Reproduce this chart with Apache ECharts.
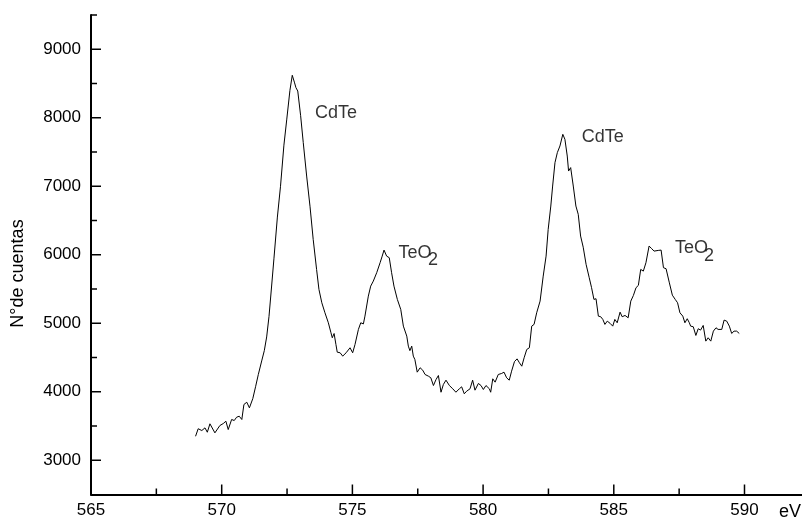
<!DOCTYPE html>
<html>
<head>
<meta charset="utf-8">
<title>CdTe / TeO2</title>
<script src="https://cdn.jsdelivr.net/npm/echarts@6/dist/echarts.min.js"></script>
<style>
  html, body { margin: 0; padding: 0; background: #fff; }
  #chart { width: 802px; height: 523px; }
</style>
</head>
<body>
<div id="chart"></div>
<script>
const eV = [
  569.00, 569.10, 569.24, 569.36, 569.45, 569.55, 569.74, 569.93, 570.06, 570.16,
  570.25, 570.38, 570.48, 570.57, 570.67, 570.77, 570.85, 570.96, 571.06, 571.19,
  571.30, 571.40, 571.53, 571.63, 571.72, 571.81, 571.90, 572.00, 572.13, 572.25,
  572.38, 572.49, 572.61, 572.70, 572.78, 572.84, 572.91, 573.02, 573.12, 573.25,
  573.38, 573.50, 573.63, 573.72, 573.83, 573.95, 574.08, 574.18, 574.23, 574.30,
  574.37, 574.42, 574.53, 574.63, 574.76, 574.91, 575.01, 575.10, 575.23, 575.32,
  575.42, 575.48, 575.61, 575.70, 575.80, 575.93, 576.06, 576.14, 576.21, 576.31,
  576.41, 576.50, 576.59, 576.72, 576.85, 576.95, 577.08, 577.14, 577.20, 577.27,
  577.33, 577.39, 577.48, 577.59, 577.69, 577.78, 577.91, 578.00, 578.10, 578.20,
  578.29, 578.39, 578.48, 578.58, 578.71, 578.84, 578.96, 579.09, 579.18, 579.28,
  579.37, 579.50, 579.60, 579.69, 579.82, 579.92, 580.01, 580.11, 580.24, 580.29,
  580.37, 580.46, 580.58, 580.71, 580.80, 580.90, 581.00, 581.09, 581.20, 581.30,
  581.39, 581.48, 581.57, 581.67, 581.77, 581.86, 581.95, 582.05, 582.18, 582.30,
  582.41, 582.49, 582.59, 582.66, 582.75, 582.84, 582.94, 583.05, 583.13, 583.22,
  583.27, 583.35, 583.45, 583.55, 583.64, 583.73, 583.83, 583.94, 584.06, 584.15,
  584.24, 584.32, 584.41, 584.50, 584.58, 584.66, 584.75, 584.86, 584.96, 585.04,
  585.13, 585.24, 585.32, 585.43, 585.55, 585.65, 585.75, 585.85, 585.94, 586.03,
  586.13, 586.23, 586.35, 586.45, 586.54, 586.70, 586.81, 586.90, 587.00, 587.12,
  587.24, 587.35, 587.44, 587.53, 587.64, 587.72, 587.81, 587.89, 587.94, 588.04,
  588.14, 588.23, 588.32, 588.42, 588.52, 588.61, 588.71, 588.81, 588.91, 588.99,
  589.13, 589.22, 589.32, 589.42, 589.51, 589.60, 589.70, 589.80
];
const cuentas = [
  3350, 3460, 3434, 3473, 3409, 3532, 3400, 3507, 3536, 3570,
  3448, 3595, 3580, 3628, 3643, 3595, 3814, 3847, 3765, 3900,
  4080, 4250, 4450, 4600, 4800, 5100, 5500, 5950, 6550, 7000,
  7600, 7980, 8400, 8620, 8520, 8440, 8390, 8030, 7637, 7149,
  6700, 6224, 5786, 5494, 5299, 5153, 5007, 4861, 4788, 4850,
  4690, 4578, 4569, 4520, 4569, 4642, 4569, 4690, 4910, 5007,
  4990, 5104, 5396, 5542, 5615, 5738, 5884, 5980, 6068, 5980,
  5957, 5738, 5542, 5348, 5202, 4958, 4812, 4666, 4600, 4666,
  4520, 4471, 4286, 4350, 4315, 4252, 4227, 4204, 4091, 4179,
  4237, 3993, 4106, 4169, 4091, 4043, 3993, 4043, 4072, 3970,
  4008, 4043, 4169, 4023, 4121, 4091, 4033, 4091, 4043, 3993,
  4189, 4140, 4252, 4267, 4286, 4204, 4169, 4300, 4440, 4480,
  4423, 4373, 4496, 4617, 4642, 4958, 4983, 5153, 5323, 5688,
  5980, 6370, 6711, 7003, 7345, 7491, 7588, 7758, 7685, 7441,
  7222, 7272, 7003, 6711, 6590, 6273, 6110, 5860, 5665, 5519,
  5348, 5358, 5104, 5095, 5056, 4983, 5031, 4998, 4958, 5056,
  5007, 5162, 5095, 5114, 5080, 5323, 5406, 5519, 5553, 5786,
  5761, 5884, 6127, 6089, 6053, 6063, 6068, 5811, 5796, 5600,
  5410, 5348, 5299, 5153, 5104, 5007, 5066, 5007, 4958, 4949,
  4822, 4920, 4900, 4968, 4739, 4788, 4739, 4885, 4934, 4910,
  4910, 5046, 5031, 4958, 4851, 4885, 4885, 4851
];

const xMayores = [565, 570, 575, 580, 585, 590];
const xMenores = [567.5, 572.5, 577.5, 582.5, 587.5];
const yMayores = [3000, 4000, 5000, 6000, 7000, 8000, 9000];
const yMenores = [3500, 4500, 5500, 6500, 7500, 8500, 9500];

// rótulos de los picos: [eV, cuentas, texto]
const rotulos = [
  [573.57, 8073, 'CdTe'],
  [583.77, 7722, 'CdTe'],
  [576.76, 6030, 'TeO'],
  [577.89, 5918, '2'],
  [587.34, 6093, 'TeO'],
  [588.45, 5976, '2']
];

const X_MIN = 565, X_MAX = 592.2, Y_MIN = 2500, Y_MAX = 9500;
const fuente = 'Liberation Sans, Arial, Helvetica, sans-serif';
const chart = echarts.init(document.getElementById('chart'), null, { renderer: 'canvas' });

// marcas de eje hacia dentro, situadas con la escala del eje
const marcas = (valores, vertical, largo) => ({
  type: 'custom',
  coordinateSystem: 'cartesian2d',
  silent: true,
  clip: false,
  z: 10,
  data: valores.map(v => (vertical ? [X_MIN, v] : [v, Y_MIN])),
  renderItem: (params, api) => {
    const p = api.coord([api.value(0), api.value(1)]);
    return {
      type: 'line',
      shape: vertical
        ? { x1: p[0], y1: p[1], x2: p[0] + largo, y2: p[1] }
        : { x1: p[0], y1: p[1], x2: p[0], y2: p[1] - largo },
      style: { stroke: '#000', lineWidth: 1.5 }
    };
  }
});

const eje = (pos, min, max, valores, margen) => ({
  type: 'value',
  position: pos,
  min: min,
  max: max,
  splitLine: { show: false },
  axisLine: { show: true, lineStyle: { color: '#000', width: 2 } },
  axisTick: { show: false },
  axisLabel: {
    show: true, customValues: valores, margin: margen, formatter: v => String(v),
    color: '#000', fontSize: 17, fontFamily: fuente
  }
});

chart.setOption({
  animation: false,
  backgroundColor: '#fff',
  grid: { left: 91, right: 0, top: 15, bottom: 28.5, outerBoundsMode: 'none' },
  xAxis: eje('bottom', X_MIN, X_MAX, xMayores, 7),
  yAxis: eje('left', Y_MIN, Y_MAX, yMayores, 10),
  graphic: [
    {
      type: 'text',
      x: 18.5,
      y: 273.5,
      rotation: Math.PI / 2,
      style: { text: 'N°de cuentas', fill: '#000', font: '18px ' + fuente, align: 'center', verticalAlign: 'middle' }
    },
    {
      type: 'text',
      x: 779,
      y: 512,
      style: { text: 'eV', fill: '#000', font: '18px ' + fuente, align: 'left', verticalAlign: 'middle' }
    }
  ],
  series: [
    {
      type: 'line',
      data: eV.map((x, i) => [x, cuentas[i]]),
      showSymbol: false,
      symbol: 'none',
      lineStyle: { color: '#000', width: 1 },
      silent: true
    },
    {
      type: 'scatter',
      data: rotulos.map(r => ({ value: [r[0], r[1]], name: r[2] })),
      symbolSize: 0,
      silent: true,
      label: {
        show: true,
        position: 'right',
        distance: 0,
        formatter: p => p.name,
        color: '#000',
        fontSize: 18,
        fontFamily: fuente
      }
    },
    marcas(xMayores, false, 10),
    marcas(xMenores, false, 6),
    marcas(yMayores, true, 10),
    marcas(yMenores, true, 6)
  ]
});
</script>
</body>
</html>
